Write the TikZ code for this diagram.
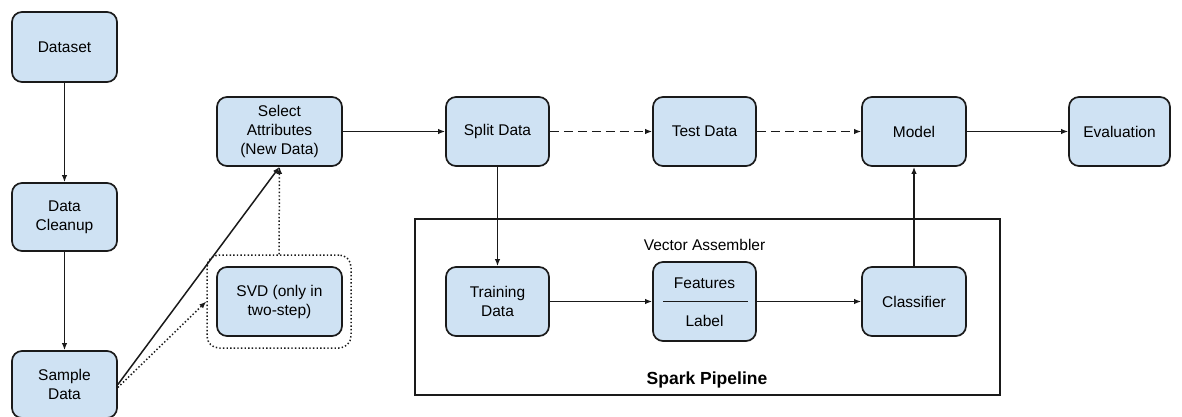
\documentclass[tikz,border=0pt]{standalone}
\usepackage{fontspec}
\setmainfont{Liberation Sans}
\usetikzlibrary{arrows.meta,positioning}
\definecolor{boxfill}{HTML}{CFE2F3}
\definecolor{ink}{HTML}{1A1A1A}
\tikzset{
  blk/.style={draw=ink, fill=boxfill, line width=1.7pt, rounded corners=10pt,
    align=center, inner sep=0pt, font=\fontsize{15.5}{19}\selectfont},
  arr/.style={draw=ink, line width=1.5pt, -{Latex[length=7pt,width=5.5pt]}},
  dashedarr/.style={arr, dash pattern=on 9pt off 5pt},
  dottedarr/.style={arr, dash pattern=on 1.4pt off 2.2pt},
  lbl/.style={inner sep=0pt, font=\fontsize{15.5}{19}\selectfont},
}
\begin{document}
\begin{tikzpicture}[x=1pt,y=-1pt]
\useasboundingbox[fill=white] (0,0) rectangle (1182,417);
% left column
\node[blk, minimum width=105pt, minimum height=70pt] (dataset) at (64.5,47) {Dataset};
\node[blk, minimum width=105pt, minimum height=68pt] (cleanup) at (64.5,217) {Data\\Cleanup};
\node[blk, minimum width=105pt, minimum height=67pt] (sample) at (64.5,384.5) {Sample\\Data};
% select / svd
\node[blk, minimum width=125pt, minimum height=69pt] (sel) at (279.5,131.5) {Select\\Attributes\\(New Data)};
\node[draw=ink, line width=1.5pt, dash pattern=on 1.4pt off 2.2pt, rounded corners=12pt,
  minimum width=144pt, minimum height=93pt, inner sep=0pt] (svdgroup) at (279,301.5) {};
\node[blk, minimum width=125pt, minimum height=69pt] (svd) at (279.5,301.5) {SVD (only in\\two-step)};
% top row
\node[blk, minimum width=103pt, minimum height=69pt] (split) at (497.5,131.5) {Split Data};
\node[blk, minimum width=103pt, minimum height=69pt] (test) at (704.5,131.5) {Test Data};
\node[blk, minimum width=104pt, minimum height=69pt] (model) at (914,131.5) {Model};
\node[blk, minimum width=101pt, minimum height=69pt] (eval) at (1119.5,131.5) {Evaluation};
% spark pipeline
\node[draw=ink, line width=1.5pt, minimum width=585pt, minimum height=176pt, inner sep=0pt] (spark) at (707.5,307) {};
\node[lbl] (va) at (704.5,245) {Vector Assembler};
\node[inner sep=0pt, font=\fontsize{17.5}{20}\selectfont\bfseries] (sparklbl) at (707,380) {Spark Pipeline};
\node[blk, minimum width=103pt, minimum height=69pt] (train) at (497.5,301.5) {Training\\Data};
\node[blk, minimum width=103pt, minimum height=79pt] (fl) at (704.5,301.5) {};
\node[lbl] (feat) at (704.5,283) {Features};
\node[lbl] (label) at (704.5,321) {Label};
\draw[draw=ink, line width=1.5pt] ([xshift=11pt]fl.west) -- ([xshift=-9pt]fl.east);
\node[blk, minimum width=104pt, minimum height=69pt] (cls) at (914,301.5) {Classifier};
% connectors
\draw[arr] (dataset) -- (cleanup);
\draw[arr] (cleanup) -- (sample);
\draw[arr] (sample.east) -- (sel.south);
\draw[dottedarr] ([yshift=-3pt]sample.east) -- (svdgroup.west);
\draw[dottedarr] (svdgroup.north) -- (sel.south);
\draw[arr] (sel) -- (split);
\draw[dashedarr] (split) -- (test);
\draw[dashedarr] (test) -- (model);
\draw[arr] (model) -- (eval);
\draw[arr] (split) -- (train);
\draw[arr] (train) -- (fl);
\draw[arr] (fl) -- (cls);
\draw[arr] (cls) -- (model);
\end{tikzpicture}
\end{document}
